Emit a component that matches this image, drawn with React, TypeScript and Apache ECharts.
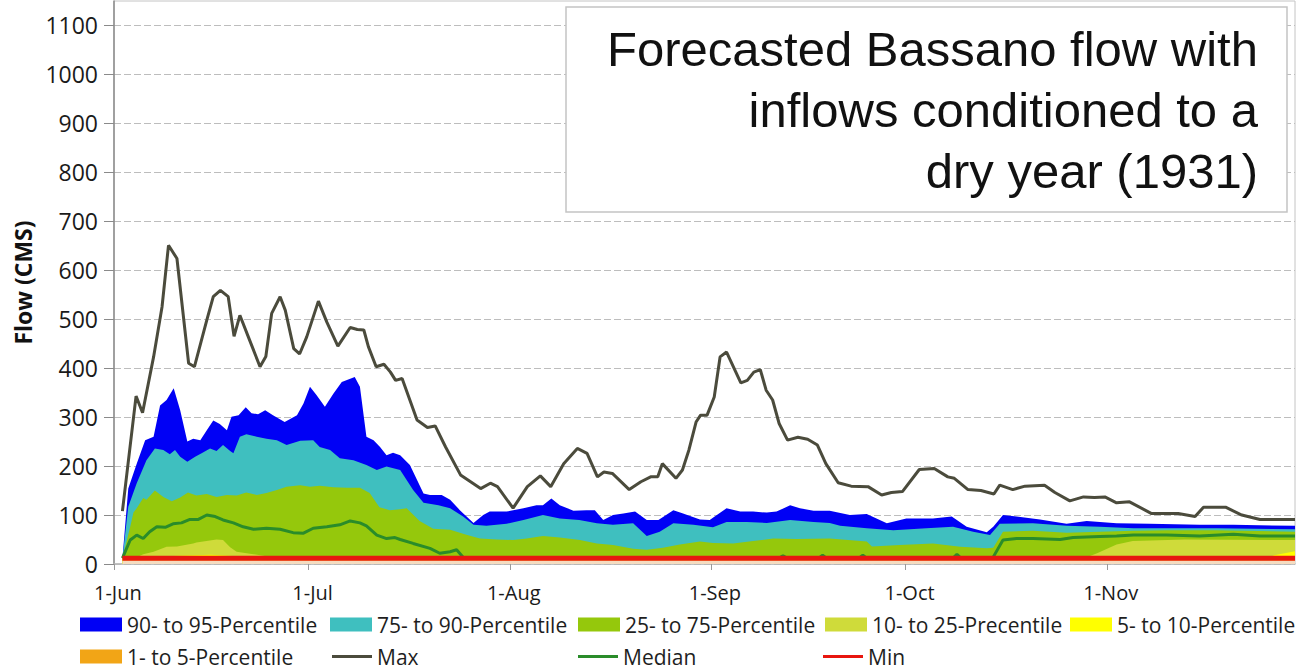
import React, { useEffect, useRef } from "react";
import * as echarts from "echarts";

// x values are days after 1-Jun (0 = 1-Jun, 182 = 30-Nov)
const MONTH_STARTS = [0, 30, 61, 92, 122, 153];
const LABEL_POS = [0.6, 30.6, 61.6, 92.6, 122.6, 153.6];
const MONTH_LABELS = ["1-Jun", "1-Jul", "1-Aug", "1-Sep", "1-Oct", "1-Nov"];
const Y_TICKS = [0, 100, 200, 300, 400, 500, 600, 700, 800, 900, 1000, 1100];
const TITLE_LINES = ["Forecasted Bassano flow with", "inflows conditioned to a", "dry year (1931)"];

const MAX = [[1.3,108],[3.4,343],[4.4,309],[6.1,423],[7.4,525],[8.4,651],[9.7,624],[11.5,410],[12.4,403],[14.3,498],[15.3,546],[16.4,559],[17.6,546],[18.5,465],[19.4,508],[20.7,464],[22.5,403],[23.4,424],[24.3,512],[25.6,546],[26.4,518],[27.7,440],[28.6,429],[29.7,464],[31.5,537],[32.8,494],[34.5,445],[36.4,483],[37.5,479],[38.5,478],[39.2,444],[40.4,403],[41.6,408],[42.6,392],[43.4,375],[44.4,379],[46.7,294],[48.3,279],[49.5,282],[51.1,239],[53.4,182],[56.5,154],[58.0,165],[59.1,158],[61.5,114],[63.7,158],[65.7,180],[67.3,158],[69.3,205],[71.4,236],[72.9,226],[74.5,178],[75.5,188],[76.8,185],[79.4,152],[81.2,168],[82.7,178],[83.8,178],[84.5,205],[86.6,175],[87.6,192],[88.6,233],[89.7,290],[90.4,304],[91.4,304],[92.5,341],[93.4,423],[94.4,433],[96.6,370],[97.6,375],[98.6,392],[99.6,397],[100.5,355],[101.5,335],[102.5,287],[103.8,253],[105.4,259],[106.9,255],[108.4,243],[109.7,205],[111.6,166],[113.6,159],[116.2,158],[118.3,141],[119.8,146],[121.5,148],[124.1,193],[126.4,195],[128.5,178],[129.5,175],[131.6,152],[133.6,150],[135.6,143],[136.5,161],[138.5,152],[140.4,159],[143.4,161],[145.0,146],[147.3,129],[149.4,137],[151.1,136],[152.7,137],[154.5,125],[156.5,127],[159.9,103],[164.0,103],[166.6,97],[167.9,116],[171.3,116],[173.8,100],[176.6,91],[182,91]];

const P95 = [[1.3,12],[2.2,154],[3.5,205],[4.8,253],[6.1,260],[7.1,324],[8.1,335],[9.2,359],[10.2,314],[11.3,250],[12.2,256],[13.3,253],[14.3,273],[15.3,293],[16.3,286],[17.4,273],[18.1,301],[19.2,304],[20.3,320],[21.2,308],[22.2,306],[23.3,314],[24.5,304],[26.3,290],[28.2,304],[29.2,328],[30.2,362],[31.2,345],[32.5,321],[33.8,348],[35.1,372],[37.1,382],[37.9,362],[38.9,260],[40.0,253],[41.0,239],[42.0,222],[43.0,227],[44.1,222],[45.6,202],[47.7,144],[48.7,141],[50.5,141],[51.8,131],[53.3,110],[55.4,84],[56.9,100],[57.9,107],[60.5,107],[63.1,114],[65.1,120],[66.1,120],[67.4,134],[68.7,120],[70.8,109],[72.8,110],[74.1,110],[75.4,90],[76.9,100],[78.5,103],[80.3,107],[82.1,90],[83.9,90],[86.2,110],[87.7,103],[90.3,91],[91.8,90],[94.4,114],[96.5,107],[98.5,107],[100.6,105],[102.1,107],[104.2,120],[105.7,114],[107.8,109],[110.3,109],[113.4,100],[116.0,102],[119.1,83],[122.1,93],[126.2,93],[129.1,97],[131.4,76],[134.5,65],[135.5,76],[137.0,100],[139.1,97],[142.7,91],[146.8,82],[149.9,88],[154.5,83],[159.6,82],[167.3,80],[172.5,80],[182,78]];

const P90 = [[1.3,12],[2.2,117],[3.5,165],[5.0,212],[6.3,236],[7.6,233],[8.6,224],[9.4,233],[10.2,219],[11.3,209],[12.5,219],[13.5,226],[14.8,236],[15.8,231],[16.8,243],[17.9,231],[18.4,226],[19.4,260],[20.4,265],[22.0,260],[23.5,256],[25.1,253],[26.6,243],[28.7,252],[30.7,253],[31.7,239],[33.3,233],[34.8,216],[36.9,212],[38.9,202],[40.5,192],[42.0,199],[44.1,192],[46.1,151],[47.7,125],[50.0,120],[51.8,114],[53.8,97],[55.4,80],[57.4,78],[60.5,82],[63.1,90],[66.1,100],[68.7,93],[71.7,90],[74.4,83],[76.9,80],[80.0,83],[82.1,57],[84.1,66],[86.2,83],[89.3,80],[92.3,75],[94.4,86],[97.5,86],[100.6,84],[104.2,90],[107.8,86],[110.3,84],[111.9,78],[116.0,73],[120.1,69],[125.2,73],[129.3,76],[132.4,66],[135.0,59],[136.5,82],[141.6,83],[146.8,78],[151.9,76],[157.1,73],[162.2,73],[169.9,73],[182,71]];

const P75 = [[1.3,12],[2.5,76],[3.0,105],[3.5,114],[4.5,135],[5.0,131],[6.3,150],[7.6,137],[8.9,128],[10.2,136],[11.4,146],[12.7,140],[14.3,143],[15.8,137],[17.4,141],[18.9,140],[20.4,146],[22.0,141],[23.5,145],[25.1,151],[26.6,158],[28.7,161],[30.2,158],[31.7,160],[33.8,157],[35.9,156],[37.9,156],[39.4,145],[40.9,116],[42.5,110],[44.1,112],[45.1,114],[47.1,88],[49.2,72],[51.8,70],[54.3,60],[56.4,52],[59.0,50],[61.5,49],[63.6,52],[66.1,57],[68.7,54],[71.8,49],[74.4,42],[76.9,39],[80.0,31],[82.1,29],[84.6,33],[87.2,40],[90.3,46],[92.3,43],[95.4,42],[98.5,47],[101.6,52],[105.2,51],[110.3,52],[116.0,46],[116.8,36],[121.1,39],[126.2,42],[130.4,35],[134.5,32],[135.5,33],[137.0,66],[141.6,68],[146.8,64],[151.9,66],[157.1,68],[162.2,69],[169.9,69],[182,66]];

const P25 = [[1.3,12],[3.5,14],[4.5,20],[6.1,25],[8.1,35],[9.7,36],[12.2,42],[12.7,44],[15.8,50],[16.8,49],[17.9,34],[18.9,25],[21.5,20],[23.5,16],[27.1,12],[149.5,12],[151.5,22],[154.5,40],[157,47],[165,50],[182,49]];

const P10 = [[1.3,11],[4.5,14],[10,17],[15,19],[19,16],[24,12],[177.5,12],[178.8,18],[182,26]];

const P5 = [[1.3,7],[182,7]];

const MEDIAN = [[1.3,12],[2.5,49],[3.5,59],[4.5,52],[5.5,66],[6.6,76],[7.9,75],[9.1,82],[10.4,84],[11.7,91],[13.0,91],[14.3,100],[15.6,97],[16.8,90],[18.4,84],[19.9,76],[21.5,71],[23.5,73],[25.6,71],[27.6,64],[29.2,63],[30.7,73],[32.8,76],[34.8,80],[36.4,88],[37.9,84],[38.9,78],[40.5,59],[42.0,52],[43.3,54],[44.1,50],[46.1,42],[48.7,32],[50.2,22],[51.8,25],[52.8,29],[53.8,14],[55,12],[102.5,12],[103.1,17],[103.7,12],[108.6,12],[109.2,18],[109.8,12],[114.8,12],[115.4,18],[116,12],[129.3,12],[129.9,20],[130.5,12],[135.4,12],[137.0,49],[139.1,52],[141.6,52],[145.8,50],[147.8,54],[151.9,56],[154.5,57],[157.1,59],[162.2,59],[167.3,57],[172.5,61],[176.6,57],[182,57]];

const MIN = [[1.3,12],[182,12]];

const NAMES = {
  p95: "90- to 95-Percentile",
  p90: "75- to 90-Percentile",
  p75: "25- to 75-Percentile",
  p25: "10- to 25-Precentile",
  p10: "5- to 10-Percentile",
  p5: "1- to 5-Percentile",
  max: "Max",
  median: "Median",
  min: "Min",
};

const COLORS = {
  p95: "#0000f5",
  p90: "#3fbfbf",
  p75: "#95c80c",
  p25: "#cfdb3a",
  p10: "#ffff00",
  p5: "#f2a516",
  p5fill: "#f5dcc0",
  max: "#4b4b3c",
  median: "#2a8c2a",
  min: "#e8160f",
};

const FONT = "Open Sans";

function areaSeries(name: string, data: number[][], fill: string, legendColor: string) {
  return {
    name,
    type: "line",
    data,
    symbol: "none",
    showSymbol: false,
    silent: true,
    color: legendColor,
    itemStyle: { color: legendColor },
    lineStyle: { width: 0, color: fill },
    areaStyle: { color: fill, opacity: 1, origin: "start" },
  };
}

function lineSeries(name: string, data: number[][], color: string, width: number) {
  return {
    name,
    type: "line",
    data,
    symbol: "none",
    showSymbol: false,
    silent: true,
    color,
    itemStyle: { color },
    lineStyle: { width, color },
  };
}

function legendItem(name: string, color: string, left: number, top: number, isLine: boolean) {
  return {
    show: true,
    left,
    top,
    padding: 0,
    itemGap: 0,
    selectedMode: false,
    itemWidth: isLine ? 40 : 42,
    itemHeight: isLine ? 3 : 14,
    textStyle: { fontFamily: FONT, fontSize: 21, color: "#1e1e1e" },
    data: [{ name, icon: "rect", itemStyle: { color, borderWidth: 0 } }],
  };
}

export default function App() {
  const ref = useRef<HTMLDivElement>(null);
  useEffect(() => {
    if (!ref.current) return;
    const chart = echarts.init(ref.current, null, { renderer: "svg" });
    const row1 = 614;
    const row2 = 646;
    const option: any = {
      animation: false,
      backgroundColor: "#ffffff",
      grid: {
        left: 114,
        right: 4,
        top: 1,
        bottom: 106,
        show: true,
        borderColor: "#c4c4c4",
        borderWidth: 1,
        containLabel: false,
        outerBoundsMode: "none",
      },
      xAxis: {
        type: "value",
        min: 0,
        max: 182,
        axisLine: { show: true, onZero: false, lineStyle: { color: "#b8b8b8", width: 1.5 } },
        axisTick: { show: true, length: 6, customValues: MONTH_STARTS, lineStyle: { color: "#9a9a9a" } },
        axisLabel: {
          customValues: LABEL_POS,
          formatter: (v: number) => {
            const i = LABEL_POS.findIndex((p) => Math.abs(p - v) < 0.01);
            return i >= 0 ? MONTH_LABELS[i] : "";
          },
          fontFamily: FONT,
          fontSize: 20,
          color: "#1a1a1a",
          margin: 18,
        },
        splitLine: { show: false },
      },
      yAxis: {
        type: "value",
        min: 0,
        max: 1150,
        interval: 100,
        name: "Flow (CMS)",
        nameLocation: "middle",
        nameGap: 80,
        nameTextStyle: { fontFamily: FONT, fontWeight: "bold", fontSize: 23, color: "#111111" },
        axisLine: { show: true, lineStyle: { color: "#8a8a8a", width: 1.5 } },
        axisTick: { show: true, length: 10, customValues: Y_TICKS, lineStyle: { color: "#8a8a8a" } },
        axisLabel: {
          customValues: Y_TICKS,
          formatter: (v: number) => String(v),
          fontFamily: FONT,
          fontSize: 23,
          color: "#1a1a1a",
          margin: 16,
        },
        splitLine: { show: true, lineStyle: { color: "#bdbdbd", type: [7, 3], width: 1 } },
      },
      legend: [
        legendItem(NAMES.p95, COLORS.p95, 80, row1, false),
        legendItem(NAMES.p90, COLORS.p90, 330, row1, false),
        legendItem(NAMES.p75, COLORS.p75, 578, row1, false),
        legendItem(NAMES.p25, COLORS.p25, 825, row1, false),
        legendItem(NAMES.p10, COLORS.p10, 1070, row1, false),
        legendItem(NAMES.p5, COLORS.p5, 80, row2, false),
        legendItem(NAMES.max, COLORS.max, 332, row2, true),
        legendItem(NAMES.median, COLORS.median, 578, row2, true),
        legendItem(NAMES.min, COLORS.min, 823, row2, true),
      ],
      series: [
        areaSeries(NAMES.p95, P95, COLORS.p95, COLORS.p95),
        areaSeries(NAMES.p90, P90, COLORS.p90, COLORS.p90),
        areaSeries(NAMES.p75, P75, COLORS.p75, COLORS.p75),
        areaSeries(NAMES.p25, P25, COLORS.p25, COLORS.p25),
        areaSeries(NAMES.p10, P10, COLORS.p10, COLORS.p10),
        areaSeries(NAMES.p5, P5, COLORS.p5fill, COLORS.p5),
        lineSeries(NAMES.max, MAX, COLORS.max, 3),
        lineSeries(NAMES.median, MEDIAN, COLORS.median, 3),
        lineSeries(NAMES.min, MIN, COLORS.min, 5),
      ],
      graphic: [
        {
          type: "rect",
          z: 100,
          shape: { x: 566, y: 7, width: 721, height: 205 },
          style: { fill: "#ffffff", stroke: "#c4c4c4", lineWidth: 1.5 },
        },
        {
          type: "text",
          z: 101,
          x: 1258,
          y: 18,
          style: {
            text: TITLE_LINES.join("\n"),
            align: "right",
            verticalAlign: "top",
            fontFamily: "Liberation Sans",
            fontSize: 49,
            lineHeight: 61,
            fill: "#111111",
          },
        },
      ],
    };
    chart.setOption(option);
    return () => chart.dispose();
  }, []);
  return (
    <div
      ref={ref}
      style={{ position: "fixed", left: 0, top: 0, width: 1299, height: 670 }}
    />
  );
}
